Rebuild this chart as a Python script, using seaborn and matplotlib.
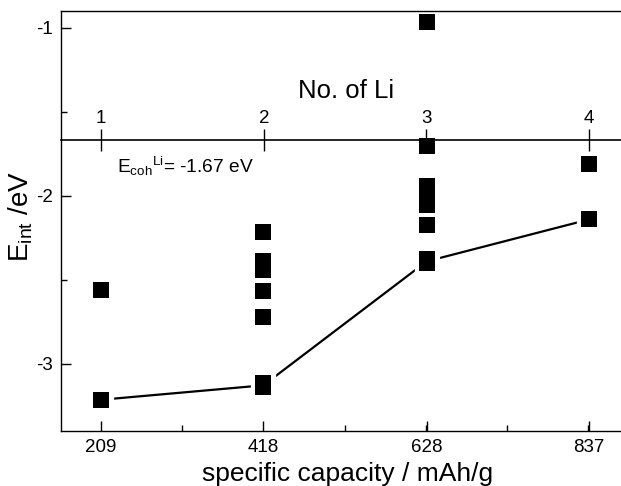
import numpy as np
import pandas as pd
import matplotlib
matplotlib.use("Agg")
import matplotlib.pyplot as plt
import matplotlib.ticker as mticker
import seaborn as sns

# ---- data ----
capacity_ticks = [209, 418, 628, 837]
n_li = [1, 2, 3, 4]

cap_209 = [-2.562, -3.214]
cap_418 = [-2.214, -2.39, -2.443, -2.565, -2.72, -3.116, -3.14]
cap_628 = [-0.964, -1.705, -1.943, -2.0, -2.057, -2.176, -2.378, -2.402]
cap_837 = [-1.81, -2.14]

line_capacity = [209, 418, 628, 837]
line_eint = [-3.214, -3.128, -2.39, -2.14]

e_coh = -1.67

points = pd.DataFrame({
    "capacity": [209] * len(cap_209) + [418] * len(cap_418)
                + [628] * len(cap_628) + [837] * len(cap_837),
    "eint": cap_209 + cap_418 + cap_628 + cap_837,
})
line_df = pd.DataFrame({"capacity": line_capacity, "eint": line_eint})

# ---- style ----
sns.set_style("ticks")
plt.rcParams["font.family"] = ["Liberation Sans", "DejaVu Sans"]
plt.rcParams["mathtext.fontset"] = "custom"
plt.rcParams["mathtext.rm"] = "Liberation Sans"
plt.rcParams["mathtext.it"] = "Liberation Sans:italic"
plt.rcParams["axes.linewidth"] = 1.0
for k in ["text.color", "axes.labelcolor", "xtick.color", "ytick.color",
          "axes.edgecolor"]:
    plt.rcParams[k] = "black"

fig = plt.figure(figsize=(6.21, 4.86), dpi=100)
ax = fig.add_axes([61 / 621, 1 - 431 / 486, 1 - 61 / 621, (431 - 11) / 486])

# line with white-edged markers to produce gaps around squares
sns.lineplot(data=line_df, x="capacity", y="eint", ax=ax, color="black",
             linewidth=1.6, marker="s", markersize=14.5,
             markeredgecolor="white", markeredgewidth=3.8,
             markerfacecolor="black", zorder=2)
sns.scatterplot(data=points, x="capacity", y="eint", ax=ax, marker="s",
                s=118, color="black", linewidth=0, zorder=3)

ax.set_xlim(157.6, 878)
ax.set_ylim(-3.40, -0.899)

ax.set_xticks(capacity_ticks)
ax.set_xticklabels([str(c) for c in capacity_ticks])
ax.set_yticks([-3, -2, -1])
ax.set_yticklabels(["-3", "-2", "-1"])
ax.xaxis.set_minor_locator(mticker.AutoMinorLocator(2))
ax.yaxis.set_minor_locator(mticker.AutoMinorLocator(2))
ax.tick_params(which="major", direction="in", length=7, width=1.0,
               labelsize=13.5, pad=6, color="black", labelcolor="black")
ax.tick_params(which="minor", direction="in", length=4, width=1.0,
               color="black")

for s in ["top", "left", "bottom"]:
    ax.spines[s].set_visible(True)
    ax.spines[s].set_color("black")
ax.spines["right"].set_visible(False)

ax.set_xlabel("specific capacity / mAh/g", fontsize=19, labelpad=4,
              color="black")
ax.xaxis.label.set_x((348 - 61) / 560)
ax.set_ylabel(r"E$_{\mathrm{int}}$ /eV", fontsize=20, color="black")
ax.yaxis.set_label_coords(-0.047, (431 - 216) / 420)

# secondary axis "No. of Li" positioned at the cohesive energy
ylo, yhi = ax.get_ylim()
frac = (e_coh - ylo) / (yhi - ylo)
sec = ax.secondary_xaxis(frac, functions=(lambda x: x / 209.25,
                                          lambda n: n * 209.25))
sec.set_xticks(n_li)
sec.set_xticklabels([str(n) for n in n_li])
sec.tick_params(direction="inout", length=16, width=1.0, labelsize=13.5,
                pad=2, color="black", labelcolor="black")
sec.spines["top"].set_linewidth(1.2)
sec.spines["top"].set_color("black")
sec.set_xlabel("No. of Li", fontsize=18.5, labelpad=8, color="black")
sec.xaxis.label.set_x((346 - 61) / 560)

ax.text(229.5, -1.863, r"E$_{\mathrm{coh}}$$^{\mathrm{Li}}$= -1.67 eV",
        fontsize=13.8, ha="left", va="baseline", color="black")

fig.savefig("out.png", dpi=100)
